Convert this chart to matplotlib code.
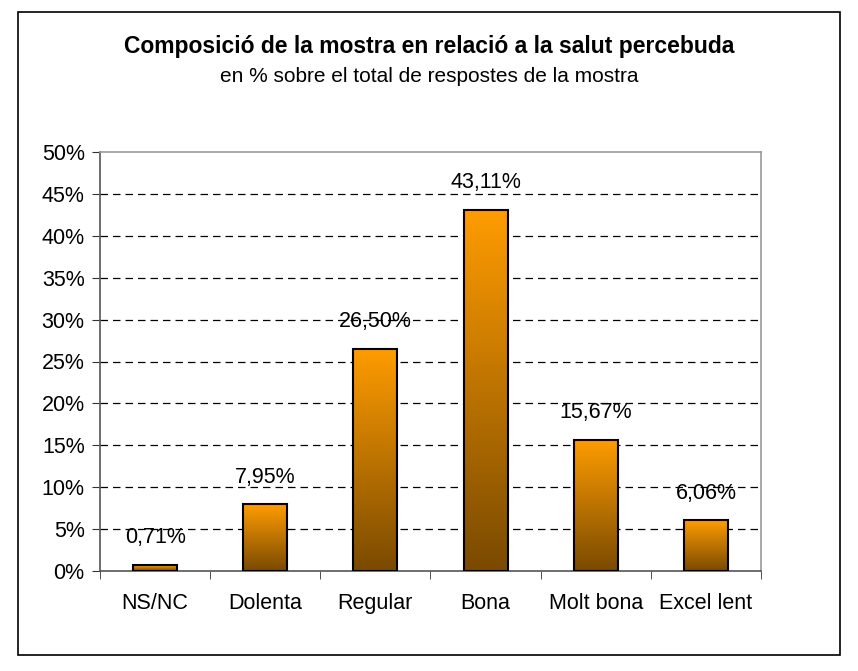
import matplotlib
matplotlib.use("Agg")
import matplotlib.pyplot as plt
import numpy as np
from matplotlib.colors import LinearSegmentedColormap
from matplotlib.patches import Rectangle

categories = ['NS/NC', 'Dolenta', 'Regular', 'Bona', 'Molt bona', 'Excel lent']
values = [0.71, 7.95, 26.50, 43.11, 15.67, 6.06]
value_labels = ['0,71%', '7,95%', '26,50%', '43,11%', '15,67%', '6,06%']
yticks = [0, 5, 10, 15, 20, 25, 30, 35, 40, 45, 50]

plt.rcParams['font.family'] = ['Liberation Sans', 'DejaVu Sans']

fig = plt.figure(figsize=(8.58, 6.71), dpi=100)
W, H = 858, 671

# marc exterior
fig.patches.append(Rectangle((18 / W, 1 - 655 / H), (840 - 18) / W, (655 - 12) / H,
                             transform=fig.transFigure, fill=False,
                             edgecolor='black', linewidth=1.2))

fig.text(0.5, 1 - 47 / H, 'Composició de la mostra en relació a la salut percebuda',
         ha='center', va='center', fontsize=16.5, fontweight='bold')
fig.text(0.5, 1 - 76 / H, 'en % sobre el total de respostes de la mostra',
         ha='center', va='center', fontsize=15)

ax = fig.add_axes([100 / W, 1 - 571 / H, (761 - 100) / W, (571 - 152) / H])

x = np.arange(len(categories))
bar_w = 0.40
cmap = LinearSegmentedColormap.from_list('ora', ['#7a4a00', '#ff9c00'])
grad = np.linspace(0, 1, 256).reshape(-1, 1)

bars = ax.bar(x, values, width=bar_w, color='none', edgecolor='black',
              linewidth=1.5, zorder=3)
for b in bars:
    x0, y0 = b.get_x(), b.get_y()
    im = ax.imshow(grad, extent=[x0, x0 + b.get_width(), y0, y0 + b.get_height()],
                   origin='lower', aspect='auto', cmap=cmap, zorder=2)
    im.set_clip_path(b)

for xi, v, lab in zip(x, values, value_labels):
    ax.annotate(lab, xy=(xi, v), xytext=(0, 12), textcoords='offset points',
                ha='center', va='bottom', fontsize=15.5)

ax.set_xlim(-0.5, len(categories) - 0.5)
ax.set_ylim(0, 50)
ax.set_yticks(yticks)
ax.set_yticklabels([f'{t}%' for t in yticks], fontsize=15.5)
ax.set_xticks(x)
ax.set_xticklabels(categories, fontsize=15.5)
ax.set_xticks(np.arange(len(categories) + 1) - 0.5, minor=True)
ax.tick_params(axis='x', which='major', length=0, pad=16)
ax.tick_params(axis='x', which='minor', length=6, direction='out', color='#333333')
ax.tick_params(axis='y', length=6, direction='out', color='#333333', pad=5)

ax.grid(axis='y', linestyle=(0, (6, 4)), color='black', linewidth=0.9, zorder=1)
for t in ax.get_ygridlines()[0:1] + ax.get_ygridlines()[-1:]:
    t.set_visible(False)

ax.spines['left'].set_color('#555555')
ax.spines['bottom'].set_color('#555555')
ax.spines['top'].set_color('#999999')
ax.spines['right'].set_color('#999999')
for s in ax.spines.values():
    s.set_linewidth(1.2)

fig.savefig('out.png', dpi=100)
